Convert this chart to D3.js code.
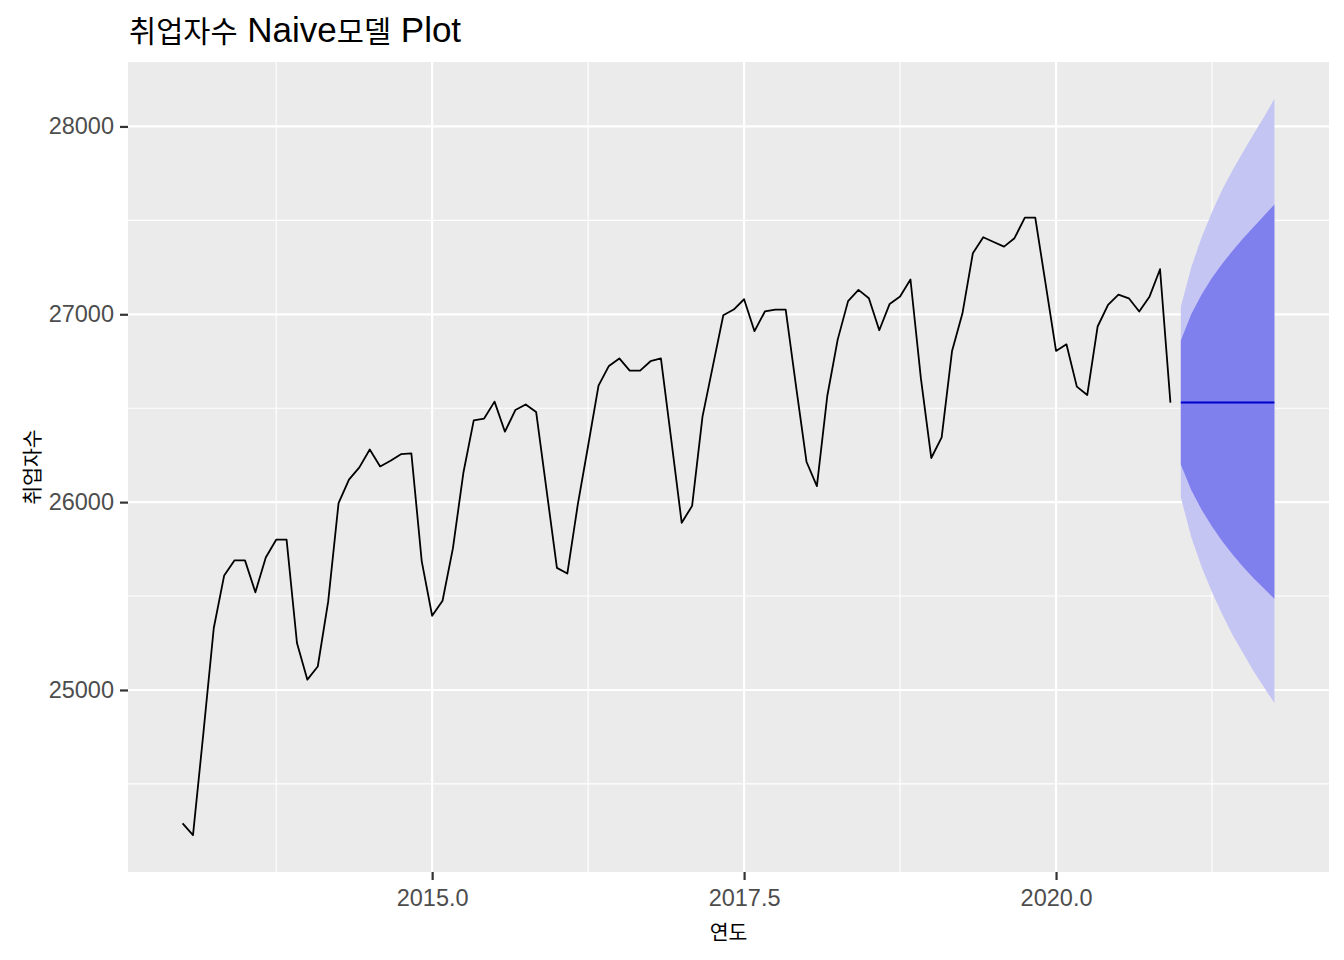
<!DOCTYPE html>
<html>
<head>
<meta charset="utf-8">
<script src="https://cdn.jsdelivr.net/npm/d3@7"></script>
<style>
  body { margin: 0; background: #ffffff; }
  text { font-family: "Liberation Sans", Arial, "Noto Sans CJK KR", sans-serif; }
  .kr { font-family: "Noto Sans CJK KR", sans-serif; }
</style>
</head>
<body>
<svg id="chart"></svg>
<script>
/* 취업자수 series, monthly 2013-01 .. 2020-12, plus a 10 month naive forecast */

const startYear = 2013;
const employed = [
  24290, 24227, 24770, 25330, 25610, 25690, 25690, 25520, 25705, 25800, 25800, 25250,
  25055, 25125, 25470, 25995, 26120, 26185, 26280, 26190, 26220, 26255, 26260, 25685,
  25395, 25475, 25755, 26155, 26435, 26445, 26535, 26375, 26490, 26520, 26480, 26065,
  25650, 25620, 25985, 26300, 26620, 26725, 26765, 26700, 26700, 26750, 26765, 26330,
  25890, 25980, 26455, 26725, 26995, 27025, 27080, 26910, 27015, 27025, 27025, 26615,
  26215, 26085, 26565, 26865, 27070, 27130, 27085, 26915, 27055, 27095, 27185, 26660,
  26235, 26345, 26805, 27005, 27325, 27410, 27385, 27360, 27405, 27515, 27515, 27160,
  26805, 26840, 26615, 26570, 26935, 27050, 27105, 27085, 27015, 27095, 27240, 26530
];

const fcStart = 2021;
const fcMean = [26530, 26530, 26530, 26530, 26530, 26530, 26530, 26530, 26530, 26530];
const lo80 = [26200, 26065, 25960, 25870, 25790, 25720, 25655, 25595, 25540, 25485];
const hi80 = [26860, 27000, 27105, 27195, 27270, 27340, 27405, 27465, 27525, 27585];
const lo95 = [26025, 25815, 25655, 25520, 25400, 25290, 25195, 25100, 25015, 24930];
const hi95 = [27040, 27250, 27410, 27545, 27665, 27770, 27865, 27960, 28050, 28147];

const xMajor = [2015, 2017.5, 2020];
const xMinor = [2013.75, 2016.25, 2018.75, 2021.25];
const yMajor = [25000, 26000, 27000, 28000];
const yMinor = [24500, 25500, 26500, 27500];

const titleParts = [["취업자수", true], [" Naive", false], ["모델", true], [" Plot", false]];
const xTitle = "연도";
const yTitle = "취업자수";

/** layout */
const width = 1344, height = 960;
const panel = { left: 128, right: 1329, top: 62, bottom: 872 };

const series = employed.map((v, i) => ({ t: startYear + i / 12, v: v }));
const fc = fcMean.map((m, i) => ({
  t: fcStart + i / 12, m: m, lo80: lo80[i], hi80: hi80[i], lo95: lo95[i], hi95: hi95[i]
}));

// ggplot style 5% expansion on both axes
expand = (ext) => {
  const pad = (ext[1] - ext[0]) * 0.05;
  return [ext[0] - pad, ext[1] + pad];
}

const tExt = d3.extent(series.map(d => d.t).concat(fc.map(d => d.t)));
const vExt = d3.extent(employed.concat(lo95, hi95));

const x = d3.scaleLinear().domain(expand(tExt)).range([panel.left, panel.right]);
const y = d3.scaleLinear().domain(expand(vExt)).range([panel.bottom, panel.top]);

const svg = d3.select("#chart")
  .attr("width", width)
  .attr("height", height);

svg.append("rect")
  .attr("width", width).attr("height", height)
  .attr("fill", "#ffffff");

svg.append("rect")
  .attr("x", panel.left).attr("y", panel.top)
  .attr("width", panel.right - panel.left)
  .attr("height", panel.bottom - panel.top)
  .attr("fill", "#EBEBEB");

/* grid lines */
const grid = svg.append("g").attr("stroke", "#ffffff");
grid.selectAll(".vminor").data(xMinor).join("line")
  .attr("x1", d => x(d)).attr("x2", d => x(d))
  .attr("y1", panel.top).attr("y2", panel.bottom)
  .attr("stroke-width", 1.1);
grid.selectAll(".hminor").data(yMinor).join("line")
  .attr("x1", panel.left).attr("x2", panel.right)
  .attr("y1", d => y(d)).attr("y2", d => y(d))
  .attr("stroke-width", 1.1);
grid.selectAll(".vmajor").data(xMajor).join("line")
  .attr("x1", d => x(d)).attr("x2", d => x(d))
  .attr("y1", panel.top).attr("y2", panel.bottom)
  .attr("stroke-width", 2.2);
grid.selectAll(".hmajor").data(yMajor).join("line")
  .attr("x1", panel.left).attr("x2", panel.right)
  .attr("y1", d => y(d)).attr("y2", d => y(d))
  .attr("stroke-width", 2.2);

/* forecast bands */
const band = (lo, hi) => d3.area()
  .x(d => x(d.t))
  .y0(d => y(d[lo]))
  .y1(d => y(d[hi]));

svg.append("path").datum(fc)
  .attr("d", band("lo95", "hi95"))
  .attr("fill", "#C5C5F4");
svg.append("path").datum(fc)
  .attr("d", band("lo80", "hi80"))
  .attr("fill", "#7F7FEE");

svg.append("path").datum(fc)
  .attr("d", d3.line().x(d => x(d.t)).y(d => y(d.m)))
  .attr("fill", "none")
  .attr("stroke", "#0000CC")
  .attr("stroke-width", 2);

/* observed series */
svg.append("path").datum(series)
  .attr("d", d3.line().x(d => x(d.t)).y(d => y(d.v)))
  .attr("fill", "none")
  .attr("stroke", "#000000")
  .attr("stroke-width", 1.8)
  .attr("stroke-linejoin", "round");

/* axes */
const xAxis = svg.append("g")
  .attr("transform", `translate(0,${panel.bottom})`)
  .call(d3.axisBottom(x).tickValues(xMajor).tickFormat(d3.format(".1f"))
    .tickSize(8).tickPadding(9.5));
const yAxis = svg.append("g")
  .attr("transform", `translate(${panel.left},0)`)
  .call(d3.axisLeft(y).tickValues(yMajor).tickFormat(d3.format("d"))
    .tickSize(8).tickPadding(6));

[xAxis, yAxis].forEach(g => {
  g.select(".domain").remove();
  g.selectAll(".tick line").attr("stroke", "#333333").attr("stroke-width", 2.2);
  g.selectAll(".tick text")
    .attr("fill", "#4D4D4D")
    .attr("font-size", "23.5px")
    .attr("font-family", "'Liberation Sans', Arial, sans-serif");
});

/* titles */
const title = svg.append("text")
  .attr("x", 129)
  .attr("y", 42)
  .attr("fill", "#000000")
  .attr("font-size", "35px");
title.selectAll("tspan").data(titleParts).join("tspan")
  .attr("class", d => d[1] ? "kr" : null)
  .attr("font-size", d => d[1] ? "29.5px" : "35px")
  .style("white-space", "pre")
  .text(d => d[0]);

svg.append("text")
  .attr("class", "kr")
  .attr("x", (panel.left + panel.right) / 2)
  .attr("y", 940)
  .attr("text-anchor", "middle")
  .attr("font-size", "20.5px")
  .attr("fill", "#000000")
  .text(xTitle);

svg.append("text")
  .attr("class", "kr")
  .attr("transform", `translate(40,${(panel.top + panel.bottom) / 2}) rotate(-90)`)
  .attr("text-anchor", "middle")
  .attr("font-size", "20.5px")
  .attr("fill", "#000000")
  .text(yTitle);
</script>
</body>
</html>
